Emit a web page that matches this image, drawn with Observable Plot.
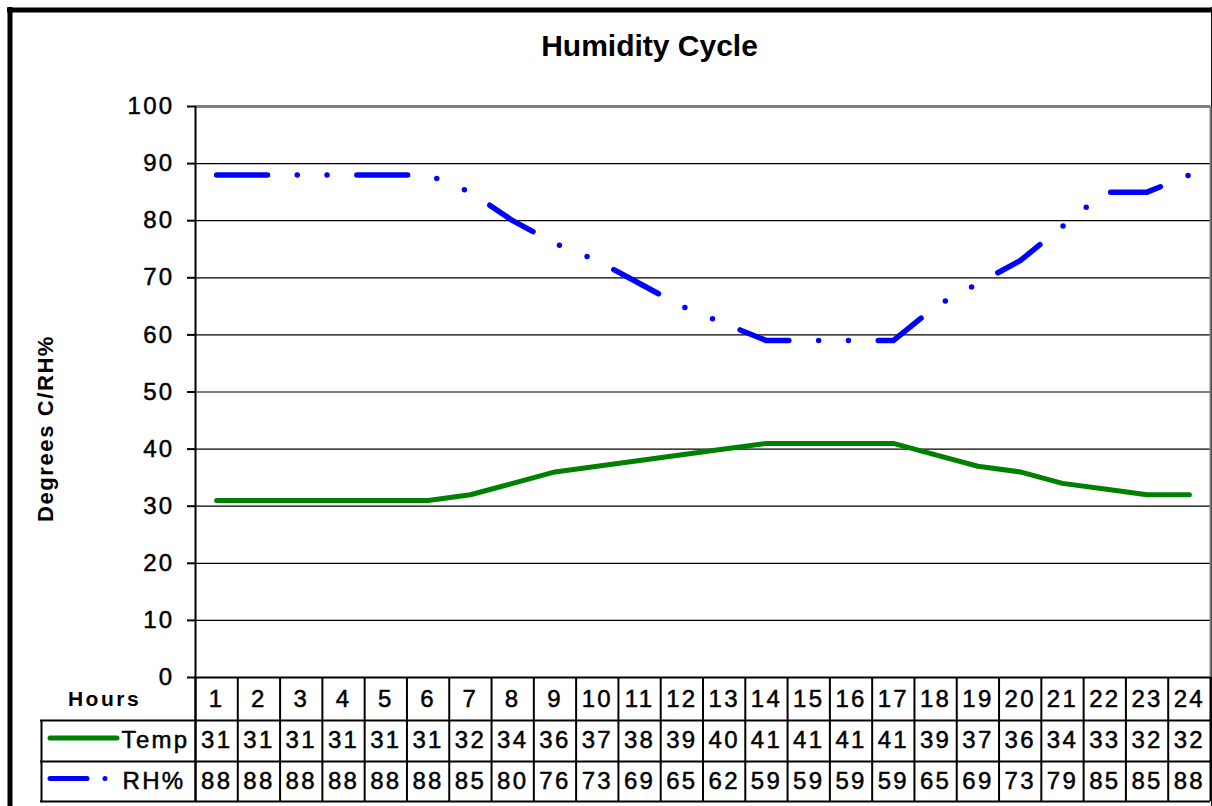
<!DOCTYPE html>
<html>
<head>
<meta charset="utf-8">
<script src="https://cdn.jsdelivr.net/npm/d3@7"></script>
<script src="https://cdn.jsdelivr.net/npm/@observablehq/plot@0.6"></script>
<style>
  html, body { margin: 0; padding: 0; background: #fff; }
  svg { display: block; }
</style>
</head>
<body>
<div id="chart"></div>
<script>
// ---- data ----
const hours = [1,2,3,4,5,6,7,8,9,10,11,12,13,14,15,16,17,18,19,20,21,22,23,24];
const temp  = [31,31,31,31,31,31,32,34,36,37,38,39,40,41,41,41,41,39,37,36,34,33,32,32];
const rh    = [88,88,88,88,88,88,85,80,76,73,69,65,62,59,59,59,59,65,69,73,79,85,85,88];
const yTicks = [0,10,20,30,40,50,60,70,80,90,100];
const seriesNames = ["Temp", "RH%"];
const title = "Humidity Cycle";
const yLabel = "Degrees C/RH%";
const headerLabel = "Hours";

// ---- layout (pixels) ----
const W = 1212, H = 806;
const pLeft = 195, pRight = 1210;       // plot area
const pTop = 106, zeroPx = 677, pBottom = 801;
const colW = (pRight - pLeft) / hours.length;
const yMin = -100 * (pBottom - zeroPx) / (zeroPx - pTop);
const xv = px => 0.5 + (px - pLeft) / colW;            // pixel -> x data
const yv = px => 100 * (zeroPx - px) / (zeroPx - pTop); // pixel -> y data
const rowLines = [720, 761, 801].map(yv);
const headerY = yv(698.5), tempY = yv(740), rhY = yv(781);

const green = "#008000", blue = "#0000ff";
const tempData = hours.map((h, i) => ({hour: h, value: temp[i]}));
const rhData = hours.map((h, i) => ({hour: h, value: rh[i]}));
const colEdges = d3.range(hours.length + 1).map(k => 0.5 + k);
const numText = {fontSize: 24, fill: "#000", stroke: "#000", strokeWidth: 0.5, ariaDescription: "tbl"};

const chart = Plot.plot({
  width: W, height: H,
  marginLeft: pLeft, marginRight: W - pRight,
  marginTop: pTop, marginBottom: H - pBottom,
  style: {fontFamily: "'Liberation Sans', Arial, sans-serif", color: "#000", background: "#fff"},
  x: {type: "linear", domain: [0.5, hours.length + 0.5], axis: null},
  y: {type: "linear", domain: [yMin, 100], axis: null},
  marks: [
    // outer chart border
    Plot.ruleX([xv(9.5)], {y1: yv(7), y2: yv(H + 10), stroke: "#000", strokeWidth: 5}),
    Plot.ruleY([yv(9.5)], {x1: xv(7), x2: xv(1212), stroke: "#000", strokeWidth: 5}),
    Plot.ruleX([xv(1211.3)], {y1: yv(7), y2: yv(H + 10), stroke: "#000", strokeWidth: 1.5}),
    // gridlines
    Plot.ruleY(yTicks.filter(d => d > 0 && d < 100), {x1: 0.5, x2: hours.length + 0.5, stroke: "#000", strokeWidth: 1.2}),
    Plot.ruleY([100], {x1: 0.5, x2: hours.length + 0.5, stroke: "#808080", strokeWidth: 3}),
    Plot.ruleX([hours.length + 0.5], {y1: 0, y2: 100, stroke: "#808080", strokeWidth: 2}),
    // y axis + ticks
    Plot.ruleX([0.5], {y1: yMin, y2: 100, stroke: "#000", strokeWidth: 2}),
    Plot.ruleY(yTicks, {x1: xv(187), x2: 0.5, stroke: "#000", strokeWidth: 2}),
    Plot.text(yTicks, {...numText, x: xv(174), y: d => d, text: d => String(d), textAnchor: "end"}),
    // data table grid
    Plot.ruleY([0], {x1: 0.5, x2: hours.length + 0.5, stroke: "#000", strokeWidth: 2}),
    Plot.ruleY(rowLines, {x1: xv(40), x2: hours.length + 0.5, stroke: "#000", strokeWidth: 2}),
    Plot.ruleX(colEdges, {y1: 0, y2: yMin, stroke: "#000", strokeWidth: 2}),
    Plot.ruleX([xv(41)], {y1: rowLines[0], y2: yMin, stroke: "#000", strokeWidth: 2}),
    // table texts
    Plot.text([headerLabel], {x: xv(104), y: headerY, text: d => d, fontSize: 21, fontWeight: "bold", ariaDescription: "tblhead"}),
    Plot.text(hours, {...numText, x: d => d, y: headerY, text: d => String(d)}),
    Plot.text(tempData, {...numText, x: "hour", y: tempY, text: d => String(d.value)}),
    Plot.text(rhData, {...numText, x: "hour", y: rhY, text: d => String(d.value)}),
    Plot.text([seriesNames[0]], {...numText, x: xv(189), y: tempY, text: d => d, textAnchor: "end"}),
    Plot.text([seriesNames[1]], {...numText, x: xv(185), y: rhY, text: d => d, textAnchor: "end"}),
    // legend keys
    Plot.ruleY([yv(737.5)], {x1: xv(50), x2: xv(117), stroke: green, strokeWidth: 5, strokeLinecap: "round"}),
    Plot.ruleY([yv(778)], {x1: xv(50), x2: xv(115), stroke: blue, strokeWidth: 5, strokeLinecap: "round", strokeDasharray: "37,18,0,100"}),
    // series lines
    Plot.line(tempData, {x: "hour", y: "value", stroke: green, strokeWidth: 5, strokeLinejoin: "round", strokeLinecap: "round"}),
    Plot.line(rhData, {x: "hour", y: "value", stroke: blue, strokeWidth: 5.5, strokeLinejoin: "round", strokeLinecap: "round", strokeDasharray: "50.8,29.8,0,29.8,0,29.8"}),
    // title and y label
    Plot.text([title], {x: xv(649), y: yv(46), text: d => d, fontSize: 30, fontWeight: "bold", ariaDescription: "title"}),
    Plot.text([yLabel], {x: xv(45), y: yv(428), text: d => d, rotate: -90, fontSize: 22, fontWeight: "bold", ariaDescription: "ylabel"})
  ]
});

const sel = d3.select(chart);
sel.selectAll('g[aria-description="tbl"] text').style("letter-spacing", "2.3px");
sel.selectAll('g[aria-description="tblhead"] text').style("letter-spacing", "2.5px");
sel.selectAll('g[aria-description="ylabel"] text').style("letter-spacing", "1.6px");
document.getElementById("chart").append(chart);
</script>
</body>
</html>
